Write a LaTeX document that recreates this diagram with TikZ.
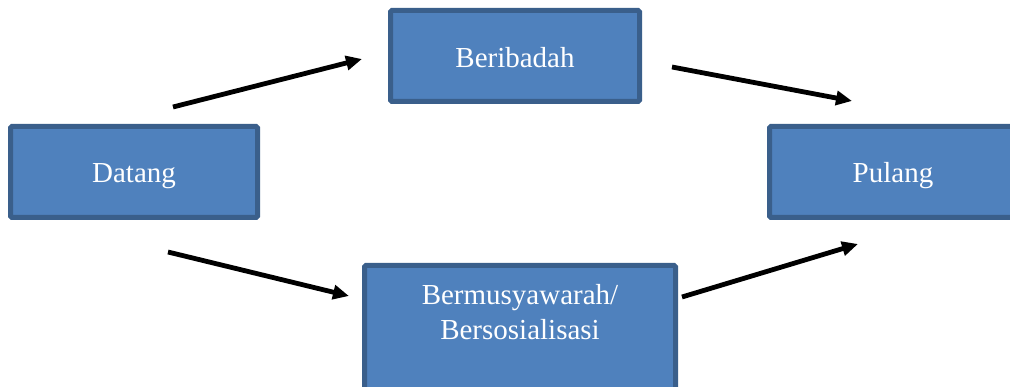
\documentclass[tikz,border=0pt]{standalone}
\usepackage{fontspec}
\setmainfont{Liberation Serif}
\usetikzlibrary{arrows.meta}
\definecolor{boxfill}{HTML}{4F81BD}
\definecolor{boxline}{HTML}{3A5F8B}
\tikzset{
  stepbox/.style={draw=boxline, fill=boxfill, line width=5pt, rounded corners=1.5pt,
    inner sep=0pt, outer sep=0pt, text=white, font=\fontsize{29}{35}\selectfont, align=center},
  boxtext/.style={text=white, font=\fontsize{29}{35}\selectfont, align=center, inner sep=0pt},
  flow/.style={line width=4.8pt, -{Triangle[length=16pt,width=14pt]}, black}
}
\begin{document}
\begin{tikzpicture}[x=1pt,y=-1pt]
\useasboundingbox (0,0) rectangle (1010,387);
\clip (0,0) rectangle (1010,387);
\node[stepbox, minimum width=247pt, minimum height=91pt, text height=22pt, text depth=0pt] (datang) at (134,172) {Datang};
\node[stepbox, minimum width=249pt, minimum height=91pt, text height=24pt, text depth=0pt] (ibadah) at (515,56) {Beribadah};
\node[stepbox, minimum width=247pt, minimum height=91pt, text height=22pt, text depth=0pt] (pulang) at (893,172) {Pulang};
\node[stepbox, minimum width=311pt, minimum height=140pt] (musyawarah) at (520,335.5) {};
\node[boxtext] (mtext) at (520,312) {Bermusyawarah/\\Bersosialisasi};
\coordinate (a1s) at (173,107);
\coordinate (a1e) at (362,59);
\coordinate (a2s) at (672,67);
\coordinate (a2e) at (852,101);
\coordinate (a3s) at (168,252);
\coordinate (a3e) at (349,296);
\coordinate (a4s) at (682,297);
\coordinate (a4e) at (858,244);
\draw[flow] (a1s) -- (a1e);
\draw[flow] (a2s) -- (a2e);
\draw[flow] (a3s) -- (a3e);
\draw[flow] (a4s) -- (a4e);
\end{tikzpicture}
\end{document}
